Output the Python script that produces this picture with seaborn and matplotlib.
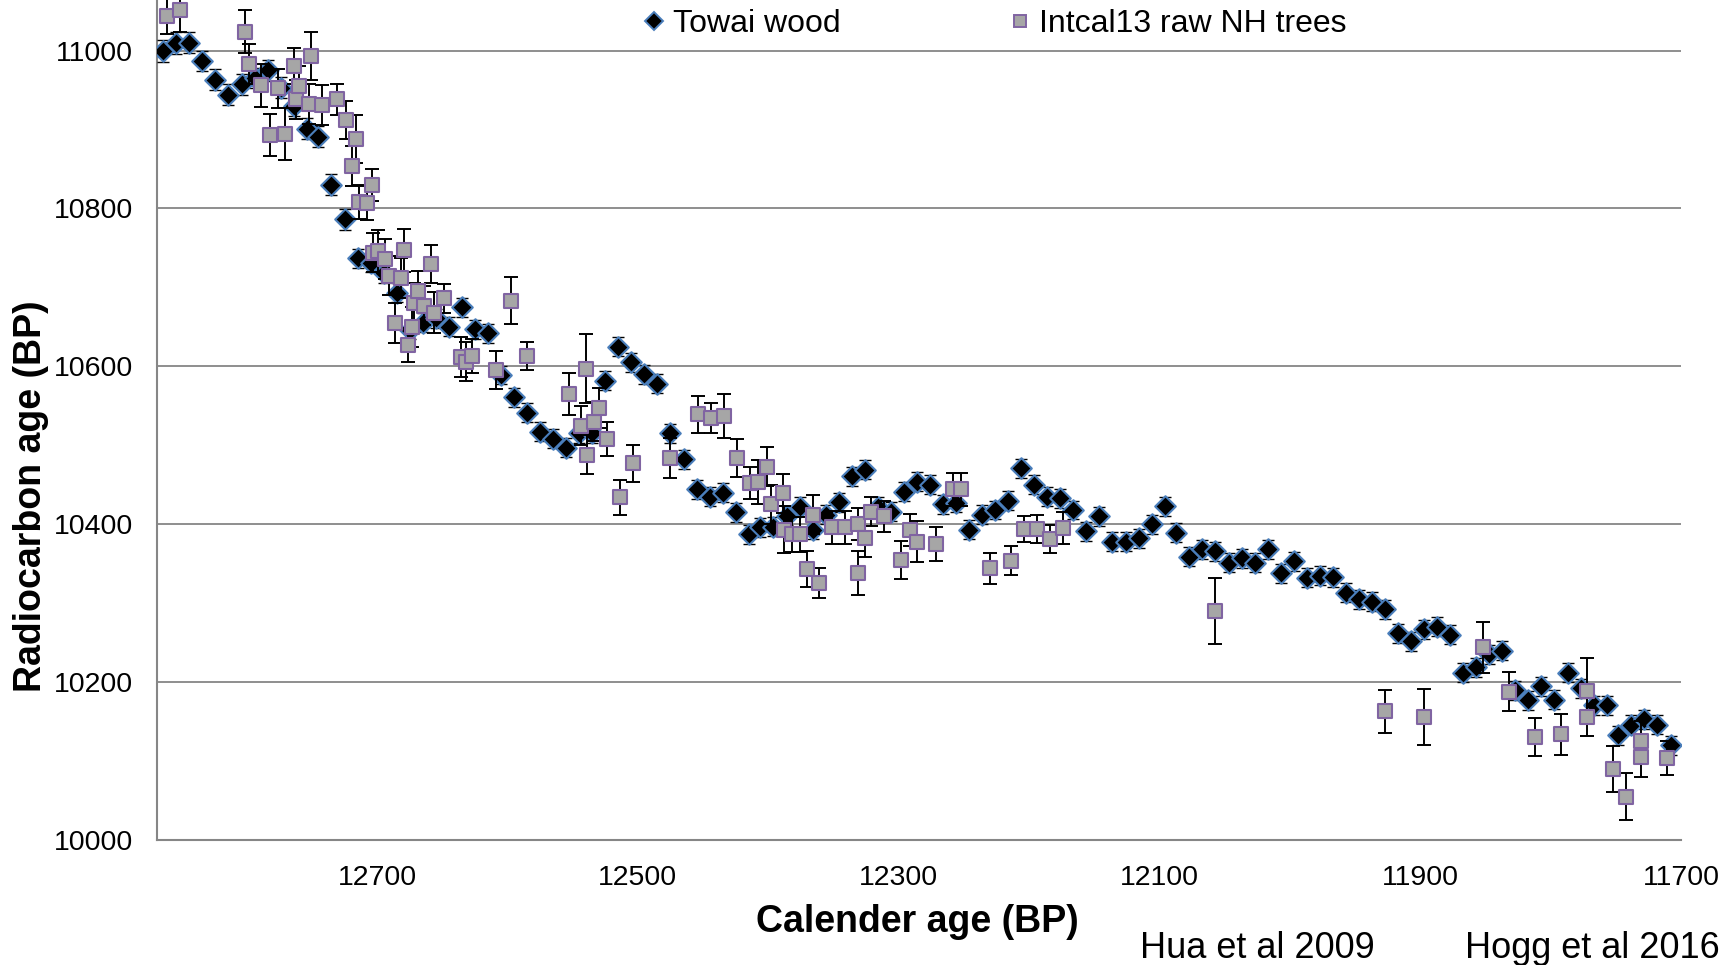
import matplotlib
matplotlib.use("Agg")
import matplotlib.pyplot as plt
from matplotlib.lines import Line2D
import seaborn as sns

# ---------------- data ----------------
towai_years = [
    12864, 12854, 12844, 12834, 12824, 12814, 12804, 12794, 12784, 12774,
    12764, 12754, 12745, 12735, 12725, 12715, 12705, 12695, 12685, 12675,
    12665, 12655, 12645, 12635, 12625, 12615, 12605, 12595, 12585, 12575,
    12565, 12555, 12545, 12535, 12525, 12515, 12505, 12495, 12485, 12475,
    12465, 12455, 12445, 12435, 12425, 12415, 12406, 12396, 12386, 12376,
    12366, 12356, 12346, 12336, 12326, 12316, 12306, 12296, 12286, 12276,
    12266, 12256, 12246, 12236, 12226, 12216, 12206, 12196, 12186, 12176,
    12166, 12156, 12146, 12136, 12126, 12116, 12106, 12096, 12087, 12077,
    12067, 12057, 12047, 12037, 12027, 12017, 12007, 11997, 11987, 11977,
    11967, 11957, 11947, 11937, 11927, 11917, 11907, 11897, 11887, 11877,
    11867, 11857, 11847, 11837, 11827, 11817, 11807, 11797, 11787, 11777,
    11767, 11757, 11748, 11738, 11728, 11718, 11708,
]
towai_c14 = [
    10999, 11010, 11010, 10987, 10963, 10944, 10957, 10965, 10975, 10953,
    10930, 10901, 10891, 10830, 10786, 10737, 10731, 10718, 10693, 10646,
    10655, 10661, 10650, 10675, 10647, 10642, 10589, 10561, 10541, 10517,
    10508, 10497, 10515, 10515, 10582, 10625, 10605, 10590, 10578, 10515,
    10482, 10444, 10435, 10440, 10415, 10387, 10396, 10397, 10411, 10422,
    10393, 10412, 10428, 10461, 10469, 10422, 10416, 10441, 10454, 10450,
    10425, 10427, 10393, 10412, 10418, 10430, 10471, 10450, 10435, 10433,
    10418, 10391, 10410, 10378, 10378, 10382, 10400, 10423, 10389, 10359,
    10368, 10366, 10351, 10357, 10351, 10368, 10338, 10353, 10332, 10335,
    10333, 10313, 10305, 10302, 10292, 10262, 10252, 10267, 10270, 10260,
    10212, 10219, 10235, 10240, 10190, 10177, 10195, 10178, 10212, 10192,
    10171, 10171, 10133, 10146, 10153, 10146, 10120,
]
towai_err = [
    14, 14, 13, 13, 13, 13, 13, 13, 13, 13,
    13, 13, 13, 13, 13, 12, 12, 12, 12, 12,
    12, 12, 12, 12, 12, 12, 12, 12, 12, 12,
    12, 12, 12, 12, 12, 12, 12, 12, 12, 12,
    12, 12, 12, 12, 12, 12, 12, 12, 12, 12,
    12, 12, 12, 12, 12, 12, 12, 12, 12, 12,
    12, 12, 12, 12, 12, 12, 12, 12, 12, 12,
    12, 12, 12, 12, 12, 12, 12, 12, 12, 12,
    12, 12, 12, 12, 12, 12, 12, 12, 12, 12,
    12, 12, 12, 12, 12, 12, 12, 12, 12, 12,
    12, 12, 12, 12, 12, 12, 12, 12, 12, 12,
    12, 12, 12, 12, 12, 12, 12,
]

intcal_years = [
    12861, 12851, 12801, 12798, 12789, 12782, 12776, 12771, 12764, 12762,
    12760, 12752, 12751, 12742, 12731, 12724, 12719, 12716, 12714, 12708,
    12704, 12703, 12699, 12694, 12691, 12686, 12682, 12679, 12676, 12673,
    12672, 12669, 12664, 12659, 12656, 12649, 12636, 12632, 12627, 12609,
    12597, 12585, 12553, 12544, 12540, 12539, 12534, 12530, 12524, 12514,
    12504, 12475, 12454, 12444, 12434, 12424, 12414, 12408, 12401, 12398,
    12389, 12388, 12382, 12376, 12370, 12366, 12361, 12351, 12341, 12331,
    12331, 12326, 12321, 12311, 12298, 12291, 12286, 12271, 12258, 12252,
    12230, 12214, 12204, 12194, 12184, 12174, 12057, 11927, 11897, 11852,
    11832, 11812, 11792, 11772, 11772, 11752, 11742, 11731, 11731, 11711,
]
intcal_c14 = [
    11044, 11051, 11024, 10983, 10956, 10893, 10952, 10894, 10980, 10938,
    10955, 10932, 10993, 10931, 10938, 10912, 10854, 10888, 10808, 10807,
    10830, 10744, 10746, 10736, 10715, 10655, 10712, 10747, 10627, 10650,
    10680, 10696, 10677, 10730, 10668, 10686, 10612, 10606, 10613, 10595,
    10683, 10613, 10565, 10525, 10597, 10488, 10530, 10547, 10508, 10434,
    10477, 10484, 10539, 10535, 10537, 10484, 10452, 10453, 10473, 10425,
    10439, 10393, 10387, 10387, 10343, 10412, 10325, 10396, 10396, 10338,
    10400, 10383, 10416, 10410, 10355, 10393, 10378, 10375, 10444, 10444,
    10344, 10354, 10394, 10394, 10381, 10395, 10290, 10163, 10156, 10244,
    10188, 10130, 10134, 10189, 10156, 10090, 10055, 10126, 10105, 10104,
]
intcal_err = [
    23, 27, 27, 25, 27, 27, 25, 33, 23, 25,
    25, 25, 30, 25, 20, 24, 25, 30, 22, 22,
    20, 25, 27, 25, 25, 25, 25, 27, 22, 25,
    25, 25, 25, 24, 26, 18, 25, 25, 22, 24,
    30, 18, 27, 25, 44, 25, 25, 25, 21, 22,
    23, 25, 24, 19, 28, 24, 20, 28, 25, 25,
    25, 30, 22, 22, 23, 25, 19, 21, 21, 28,
    20, 25, 18, 20, 24, 20, 26, 21, 21, 21,
    20, 18, 16, 18, 18, 20, 42, 27, 35, 32,
    25, 24, 26, 42, 24, 29, 30, 25, 25, 22,
]

x_ticks = [12700, 12500, 12300, 12100, 11900, 11700]
y_ticks = [10000, 10200, 10400, 10600, 10800, 11000]
series_names = ["Towai wood", "Intcal13 raw NH trees"]
x_title = "Calender age (BP)"
y_title = "Radiocarbon age (BP)"
notes = ["Hua et al 2009", "Hogg et al 2016"]

# ---------------- style ----------------
sns.set_style("white")
plt.rcParams["font.family"] = ["Liberation Sans", "DejaVu Sans"]
plt.rcParams["text.color"] = "black"
plt.rcParams["axes.labelcolor"] = "black"
plt.rcParams["xtick.color"] = "black"
plt.rcParams["ytick.color"] = "black"

GRID = "#868686"
TOWAI_FACE, TOWAI_EDGE = "#000000", "#4A7EBB"
INT_FACE, INT_EDGE = "#A6A6A6", "#8064A2"

fig = plt.figure(figsize=(17.36, 9.65), dpi=100)
ax = fig.add_axes([0.0903, 0.1295, 0.8780, 0.8705])

# Towai wood
ax.errorbar(towai_years, towai_c14, yerr=towai_err, fmt="none",
            ecolor="black", elinewidth=1.0, capsize=4, capthick=1.0, zorder=3)
sns.scatterplot(x=towai_years, y=towai_c14, marker="D", s=110,
                color=TOWAI_FACE, edgecolor=TOWAI_EDGE, linewidth=1.5,
                ax=ax, zorder=4, legend=False)

# Intcal13
ax.errorbar(intcal_years, intcal_c14, yerr=intcal_err, fmt="none",
            ecolor="black", elinewidth=1.4, capsize=5, capthick=1.4, zorder=5)
sns.scatterplot(x=intcal_years, y=intcal_c14, marker="s", s=100,
                color=INT_FACE, edgecolor=INT_EDGE, linewidth=1.5,
                ax=ax, zorder=6, legend=False)

ax.set_xlim(12869, 11700)
ax.set_ylim(10000, 11064)
ax.set_xticks(x_ticks)
ax.set_xticklabels([str(v) for v in x_ticks])
ax.set_yticks(y_ticks)
ax.set_yticklabels([str(v) for v in y_ticks])

ax.yaxis.grid(True, color=GRID, linewidth=1.3)
ax.xaxis.grid(False)
ax.set_axisbelow(True)

for side in ["top", "right"]:
    ax.spines[side].set_visible(False)
for side in ["left", "bottom"]:
    ax.spines[side].set_color(GRID)
    ax.spines[side].set_linewidth(1.5)

ax.tick_params(axis="x", direction="out", length=6, width=1.2, color=GRID,
               labelsize=20.5, pad=12, labelcolor="black")
ax.tick_params(axis="y", direction="out", length=6.5, width=1.2, color=GRID,
               labelsize=20.5, pad=10.5, labelcolor="black")

ax.set_xlabel(x_title, fontsize=27, fontweight="bold", va="center", color="black")
ax.xaxis.set_label_coords(0.4988, -0.098)
ax.set_ylabel(y_title, fontsize=27, fontweight="bold", va="center", ha="center",
              color="black")
ax.yaxis.set_label_coords(-0.0825, 0.4095)

handles = [
    Line2D([], [], linestyle="none", marker="D", markersize=9,
           markerfacecolor=TOWAI_FACE, markeredgecolor=TOWAI_EDGE, markeredgewidth=1.4),
    Line2D([], [], linestyle="none", marker="s", markersize=9,
           markerfacecolor=INT_FACE, markeredgecolor=INT_EDGE, markeredgewidth=1.4),
]
fig.legend(handles, series_names, loc="center left",
           bbox_to_anchor=(0.3695, 1 - 24 / 965), ncol=2, frameon=False,
           fontsize=23, handlelength=0.8, handletextpad=0.2,
           columnspacing=5.2, borderpad=0, borderaxespad=0, labelcolor="black")

fig.text(1257 / 1736, 1 - 948 / 965, notes[0], fontsize=26, ha="center", va="center",
         color="black")
fig.text(1592 / 1736, 1 - 948 / 965, notes[1], fontsize=26, ha="center", va="center",
         color="black")

fig.savefig("out.png", dpi=100)
